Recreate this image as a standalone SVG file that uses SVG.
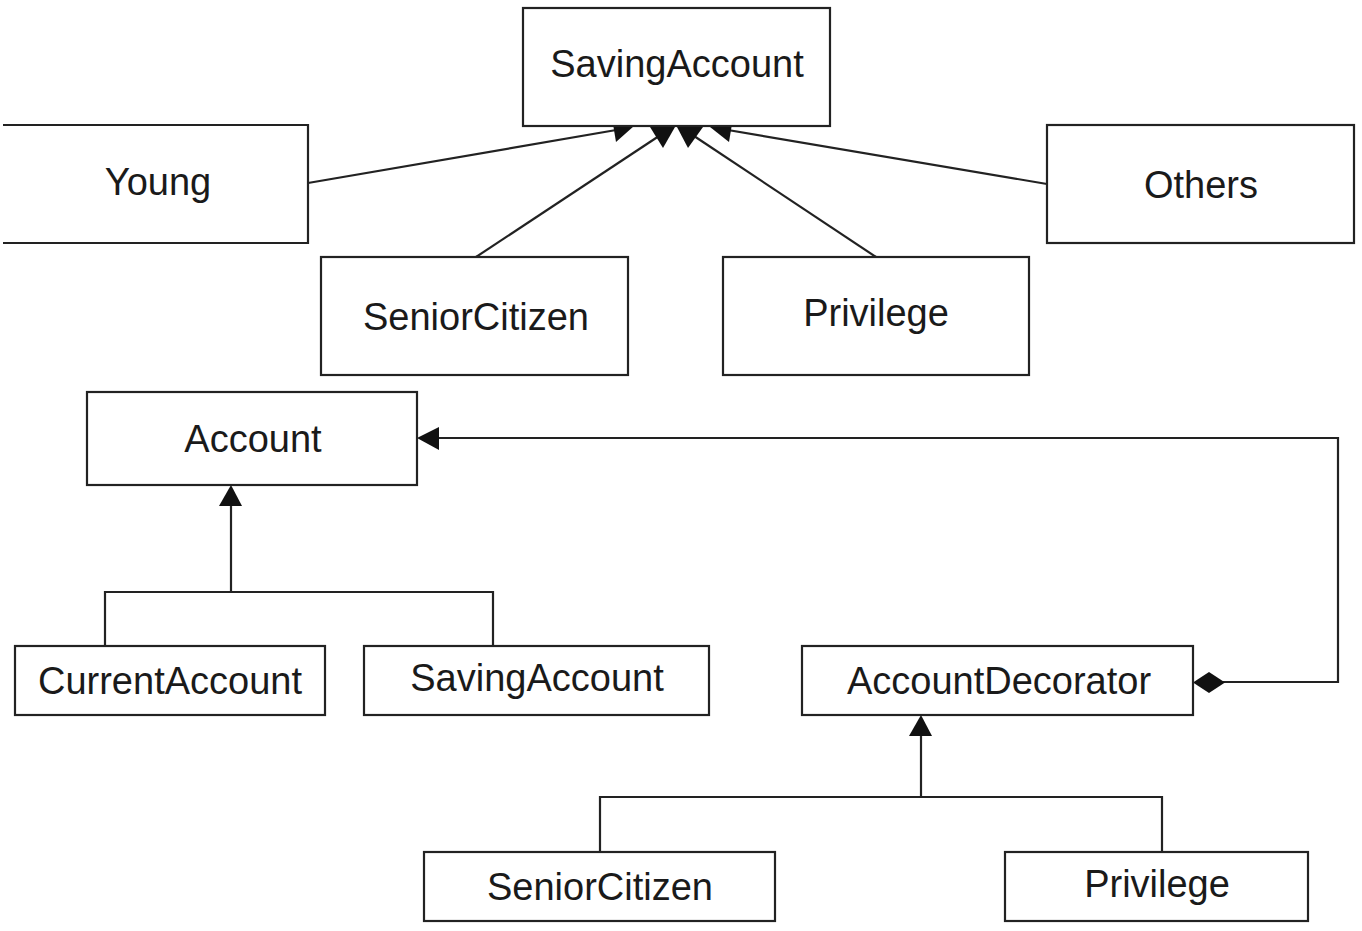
<svg xmlns="http://www.w3.org/2000/svg" width="1362" height="931" viewBox="0 0 1362 931">
<style>
.box{fill:#fff;stroke:#222;stroke-width:2.2}
.lbl{font-family:"Liberation Sans",Arial,sans-serif;font-size:38px;fill:#1a1a1a;text-anchor:middle}
.ln{fill:none;stroke:#222;stroke-width:2.2}
.hd{fill:#111;stroke:none}
</style>
<rect width="1362" height="931" fill="#fff"/>
<g id="connectors">
<line class="ln" x1="308" y1="183" x2="622" y2="129"/>
<line class="ln" x1="476" y1="257" x2="659" y2="136"/>
<line class="ln" x1="876" y1="257" x2="694" y2="136"/>
<line class="ln" x1="1047" y1="184" x2="722" y2="129"/>
<polygon class="hd" points="634,126 612,118 616,142"/>
<polygon class="hd" points="650,127 675,127 663,148"/>
<polygon class="hd" points="677,127 703,127 688,148"/>
<polygon class="hd" points="710,127 733,118 729,142"/>
<polyline class="ln" points="105,646 105,592 493,592 493,646"/>
<line class="ln" x1="231" y1="592" x2="231" y2="500"/>
<polygon class="hd" points="231,485 219,506 242,506"/>
<polyline class="ln" points="600,852 600,797 1162,797 1162,852"/>
<line class="ln" x1="921" y1="797" x2="921" y2="730"/>
<polygon class="hd" points="921,715 909,736 932,736"/>
<polyline class="ln" points="430,438 1338,438 1338,682 1220,682"/>
<polygon class="hd" points="417,438 439,427 439,450"/>
<polygon class="hd" points="1193,682.5 1209,672 1225,682.5 1209,693"/>
</g>
<g id="n-saving-top"><rect class="box" x="523" y="8" width="307" height="118"/><text class="lbl" x="677" y="77">SavingAccount</text></g>
<g id="n-young"><polyline class="box" points="3,125 308,125 308,243 3,243"/><text class="lbl" x="158" y="195">Young</text></g>
<g id="n-others"><rect class="box" x="1047" y="125" width="307" height="118"/><text class="lbl" x="1201" y="198">Others</text></g>
<g id="n-senior-top"><rect class="box" x="321" y="257" width="307" height="118"/><text class="lbl" x="476" y="330">SeniorCitizen</text></g>
<g id="n-privilege-top"><rect class="box" x="723" y="257" width="306" height="118"/><text class="lbl" x="876" y="326">Privilege</text></g>
<g id="n-account"><rect class="box" x="87" y="392" width="330" height="93"/><text class="lbl" x="253" y="452">Account</text></g>
<g id="n-current"><rect class="box" x="15" y="646" width="310" height="69"/><text class="lbl" x="170" y="694">CurrentAccount</text></g>
<g id="n-saving-bottom"><rect class="box" x="364" y="646" width="345" height="69"/><text class="lbl" x="537" y="691">SavingAccount</text></g>
<g id="n-decorator"><rect class="box" x="802" y="646" width="391" height="69"/><text class="lbl" x="999" y="694">AccountDecorator</text></g>
<g id="n-senior-bottom"><rect class="box" x="424" y="852" width="351" height="69"/><text class="lbl" x="600" y="900">SeniorCitizen</text></g>
<g id="n-privilege-bottom"><rect class="box" x="1005" y="852" width="303" height="69"/><text class="lbl" x="1157" y="897">Privilege</text></g>
</svg>
